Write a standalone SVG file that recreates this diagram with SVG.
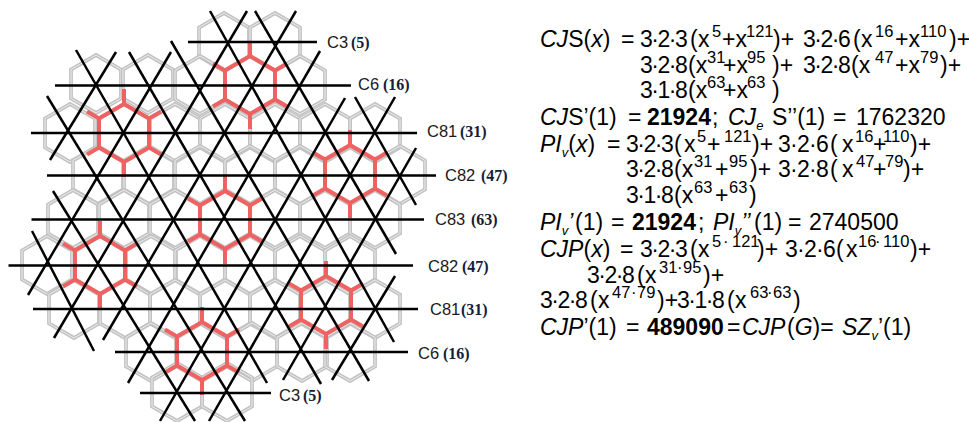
<svg xmlns="http://www.w3.org/2000/svg" xmlns:xlink="http://www.w3.org/1999/xlink" width="969" height="422" viewBox="0 0 969 422">
<style>
.o{fill:none;stroke:#c2c2c2;stroke-width:3.8}
.n{fill:none;stroke:#ececec;stroke-width:1}
.r{fill:none;stroke:#ee6262;stroke-width:4}
#connectors line{stroke:#000;stroke-width:2.5}
.lb{font:16.5px "Liberation Sans",Arial,sans-serif;fill:#1a1a1a}
.lb tspan{font:bold 16px "Liberation Serif","Times New Roman",serif;fill:#14203a}
.f{font:23px "Liberation Sans",Arial,sans-serif;fill:#000}
.i{font-style:italic}
.b{font-weight:bold}
.s{font-size:16.5px}
.u{font-size:13px;font-style:italic}
</style>
<defs>
<path id="h" d="M0,-29L25,-14.5V14.5L0,29L-25,14.5V-14.5Z"/>
<g id="gh"><use href="#h" class="o"/><use href="#h" class="n"/></g>
<path id="rh" class="r" d="M0,-29L25,-14.5V14.5L0,29L-25,14.5V-14.5ZM0,-29V-44M25,-14.5L37,-21.5M25,14.5L37,21.5M0,29V44M-25,14.5L-37,21.5M-25,-14.5L-37,-21.5"/>
</defs>
<rect width="969" height="422" fill="#fff"/>
<g id="hex-grid">
<use href="#gh" x="224" y="42"/><use href="#gh" x="275" y="42"/>
<use href="#gh" x="96" y="84"/><use href="#gh" x="148" y="84"/><use href="#gh" x="200" y="85"/><use href="#gh" x="250" y="85"/><use href="#gh" x="300" y="85"/>
<use href="#gh" x="70" y="133"/><use href="#gh" x="124" y="133"/><use href="#gh" x="175" y="133"/><use href="#gh" x="225" y="133"/><use href="#gh" x="275" y="133"/><use href="#gh" x="325" y="133"/><use href="#gh" x="375" y="133"/>
<use href="#gh" x="98" y="175"/><use href="#gh" x="149" y="175"/><use href="#gh" x="200" y="175"/><use href="#gh" x="250" y="175"/><use href="#gh" x="300" y="175"/><use href="#gh" x="350" y="175"/><use href="#gh" x="400" y="175"/>
<use href="#gh" x="73" y="219"/><use href="#gh" x="124" y="219"/><use href="#gh" x="175" y="219"/><use href="#gh" x="225" y="219"/><use href="#gh" x="275" y="219"/><use href="#gh" x="325" y="219"/><use href="#gh" x="375" y="219"/>
<use href="#gh" x="47" y="265"/><use href="#gh" x="100" y="265"/><use href="#gh" x="151" y="265"/><use href="#gh" x="200" y="265"/><use href="#gh" x="250" y="265"/><use href="#gh" x="300" y="265"/><use href="#gh" x="350" y="265"/>
<use href="#gh" x="74" y="309"/><use href="#gh" x="125" y="309"/><use href="#gh" x="175" y="309"/><use href="#gh" x="225" y="309"/><use href="#gh" x="275" y="309"/><use href="#gh" x="326" y="309"/><use href="#gh" x="375" y="309"/>
<use href="#gh" x="151" y="352"/><use href="#gh" x="202" y="352"/><use href="#gh" x="252" y="352"/><use href="#gh" x="302" y="352"/><use href="#gh" x="350" y="352"/>
<use href="#gh" x="177" y="392"/><use href="#gh" x="227" y="392"/>
</g>
<g id="red-hexagons">
<use href="#rh" x="124" y="133"/><use href="#rh" x="250" y="85"/><use href="#rh" x="350" y="174"/><use href="#rh" x="225" y="220"/><use href="#rh" x="100" y="265"/><use href="#rh" x="326" y="305"/><use href="#rh" x="202" y="351"/>
</g>
<g id="connectors">
<line x1="188" y1="42" x2="317" y2="42"/><line x1="55" y1="85.5" x2="351" y2="85.5"/><line x1="31" y1="133" x2="417" y2="133"/><line x1="47" y1="175.5" x2="436" y2="175.5"/><line x1="31.5" y1="219.5" x2="424" y2="219.5"/><line x1="8.5" y1="265.5" x2="413" y2="265.5"/><line x1="33" y1="309" x2="418" y2="309"/><line x1="115" y1="352" x2="408" y2="352"/><line x1="140" y1="393" x2="271" y2="393"/>
<line x1="116" y1="52" x2="50" y2="160"/><line x1="171" y1="52" x2="28" y2="295"/><line x1="247" y1="11" x2="54" y2="338"/><line x1="296" y1="11" x2="103" y2="340"/><line x1="320" y1="51" x2="128" y2="383"/><line x1="345" y1="98" x2="160" y2="421"/><line x1="395" y1="97" x2="209" y2="421"/><line x1="416" y1="148" x2="283" y2="380"/><line x1="395" y1="276" x2="332" y2="380"/>
<line x1="76" y1="50" x2="267" y2="383"/><line x1="129" y1="52" x2="321" y2="384"/><line x1="171" y1="41" x2="369" y2="381"/><line x1="210" y1="11" x2="394" y2="342"/><line x1="255" y1="11" x2="396" y2="254"/><line x1="355" y1="97" x2="416" y2="205"/><line x1="47" y1="96" x2="245" y2="421"/><line x1="32" y1="231" x2="94" y2="351"/><line x1="53" y1="191" x2="195" y2="421"/>
</g>
<g id="labels">
<g id="l-c3a"><text class="lb" x="327" y="48">C3<tspan x="351">(5)</tspan></text></g>
<g id="l-c6a"><text class="lb" x="358" y="90">C6<tspan x="383">(16)</tspan></text></g>
<g id="l-c81a"><text class="lb" x="427" y="137">C81<tspan x="460">(31)</tspan></text></g>
<g id="l-c82a"><text class="lb" x="445" y="181">C82<tspan x="481">(47)</tspan></text></g>
<g id="l-c83"><text class="lb" x="435" y="225">C83<tspan x="471">(63)</tspan></text></g>
<g id="l-c82b"><text class="lb" x="428" y="272">C82<tspan x="462">(47)</tspan></text></g>
<g id="l-c81b"><text class="lb" x="430" y="315">C81<tspan x="461">(31)</tspan></text></g>
<g id="l-c6b"><text class="lb" x="418" y="359">C6<tspan x="443">(16)</tspan></text></g>
<g id="l-c3b"><text class="lb" x="279" y="401">C3<tspan x="303">(5)</tspan></text></g>
</g>
<g id="formulas">
<text class="f" x="540" y="47"><tspan class="i">CJ</tspan>S(<tspan class="i">x</tspan>) <tspan x="621">=</tspan><tspan x="640 651.3 657.5 668.8 675 690 698">3·2·3(x</tspan><tspan class="s" x="712" y="37">5</tspan><tspan x="722" y="47">+x</tspan><tspan class="s" x="746" y="37">121</tspan><tspan x="773" y="47">)+</tspan><tspan x="803 814.3 820.5 831.8 838 853 861">3·2·6(x</tspan><tspan class="s" x="875" y="37">16</tspan><tspan x="895" y="47">+x</tspan><tspan class="s" x="920" y="37">110</tspan><tspan x="949" y="47">)+</tspan></text>
<text class="f" y="73"><tspan x="640 651.3 657.5 668.8 675 688 695.7">3·2·8(x</tspan><tspan class="s" x="707" y="63">31</tspan><tspan x="723" y="73">+x</tspan><tspan class="s" x="747" y="63">95</tspan><tspan x="772" y="73">)+</tspan><tspan x="803 814.3 820.5 831.8 838 851 858.7">3·2·8(x</tspan><tspan class="s" x="875" y="63">47</tspan><tspan x="895" y="73">+x</tspan><tspan class="s" x="920" y="63">79</tspan><tspan x="940" y="73">)+</tspan></text>
<text class="f" y="98"><tspan x="640 651.3 657.5 668.8 675 688 695.7">3·1·8(x</tspan><tspan class="s" x="707" y="88">63</tspan><tspan x="723" y="98">+x</tspan><tspan class="s" x="747" y="88">63</tspan><tspan x="772" y="98">)</tspan></text>
<text class="f" x="540" y="125"><tspan class="i">CJ</tspan>S’(1) <tspan x="628">=</tspan><tspan class="b" x="647">21924</tspan><tspan x="712">;</tspan><tspan class="i" x="728">CJ</tspan><tspan class="u" y="130">e</tspan><tspan x="772" y="125">S’’(1)</tspan><tspan x="833">=</tspan><tspan x="856">1762320</tspan></text>
<text class="f" x="540" y="152"><tspan class="i">PI</tspan><tspan class="u" y="157">v</tspan><tspan y="152">(</tspan><tspan class="i">x</tspan>) <tspan x="607">=</tspan><tspan x="626 637.3 643.5 654.8 661 674 684">3·2·3(x</tspan><tspan class="s" x="697" y="142">5</tspan><tspan x="707" y="152">+</tspan><tspan class="s" x="724" y="142">121</tspan><tspan x="752" y="152">)+</tspan><tspan x="778 790 797 809 816 830 842">3·2·6(x</tspan><tspan class="s" x="855" y="142">16</tspan><tspan x="873" y="152">+</tspan><tspan class="s" x="883" y="142">110</tspan><tspan x="910" y="152">)+</tspan></text>
<text class="f" y="177"><tspan x="626 637.3 643.5 654.8 661 674 681.7">3·2·8(x</tspan><tspan class="s" x="694" y="167">31</tspan><tspan x="715" y="177">+</tspan><tspan class="s" x="729" y="167">95</tspan><tspan x="750" y="177">)+</tspan><tspan x="778 790 797 809 816 830 842">3·2·8(x</tspan><tspan class="s" x="856" y="167">47</tspan><tspan x="873" y="177">+</tspan><tspan class="s" x="885" y="167">79</tspan><tspan x="903" y="177">)+</tspan></text>
<text class="f" y="203"><tspan x="626 637.3 643.5 654.8 661 674 681.7">3·1·8(x</tspan><tspan class="s" x="694" y="193">63</tspan><tspan x="715" y="203">+</tspan><tspan class="s" x="729" y="193">63</tspan><tspan x="749" y="203">)</tspan></text>
<text class="f" x="540" y="230"><tspan class="i">PI</tspan><tspan class="u" y="235">v</tspan><tspan class="i" y="230">’</tspan><tspan x="575">(1)</tspan><tspan x="611">=</tspan><tspan class="b" x="632">21924</tspan><tspan x="698">;</tspan><tspan class="i" x="713">PI</tspan><tspan class="u" y="235">v</tspan><tspan class="i" y="230">’’</tspan><tspan x="754">(1)</tspan><tspan x="788">=</tspan><tspan x="809">2740500</tspan></text>
<text class="f" x="540" y="257"><tspan class="i">CJP</tspan>(<tspan class="i">x</tspan>) <tspan x="620">=</tspan><tspan x="640 651.3 657.5 668.8 675 690 698">3·2·3(x</tspan><tspan class="s" x="712" y="247">5</tspan><tspan class="s" x="723">·</tspan><tspan class="s" x="732">121</tspan><tspan x="757" y="257">)+</tspan><tspan x="785 797 804 816 823 836 846">3·2·6(x</tspan><tspan class="s" x="858" y="247">16</tspan><tspan class="s" x="875">·</tspan><tspan class="s" x="883">110</tspan><tspan x="910" y="257">)+</tspan></text>
<text class="f" y="283"><tspan x="587 598.3 604.5 615.8 622 637 645">3·2·8(x</tspan><tspan class="s" x="659" y="273">31</tspan><tspan class="s" x="677">·</tspan><tspan class="s" x="683">95</tspan><tspan x="703" y="283">)+</tspan></text>
<text class="f" y="308"><tspan x="540 551.3 557.5 568.8 575 590 598">3·2·8(x</tspan><tspan class="s" x="612" y="298">47</tspan><tspan class="s" x="631">·</tspan><tspan class="s" x="637">79</tspan><tspan x="657" y="308">)+</tspan><tspan x="677 688.3 694.5 705.8 712 727 735">3·1·8(x</tspan><tspan class="s" x="750" y="298">63</tspan><tspan class="s" x="767">·</tspan><tspan class="s" x="773">63</tspan><tspan x="793" y="308">)</tspan></text>
<text class="f" x="540" y="335"><tspan class="i">CJP</tspan>’(1) <tspan x="626">=</tspan><tspan class="b" x="647">489090</tspan><tspan x="727">=</tspan><tspan class="i" x="742">CJP</tspan><tspan x="787">(<tspan class="i">G</tspan>)=</tspan><tspan class="i" x="842">SZ</tspan><tspan class="u" y="340">v</tspan><tspan y="335">’(1)</tspan></text>
</g>
</svg>
